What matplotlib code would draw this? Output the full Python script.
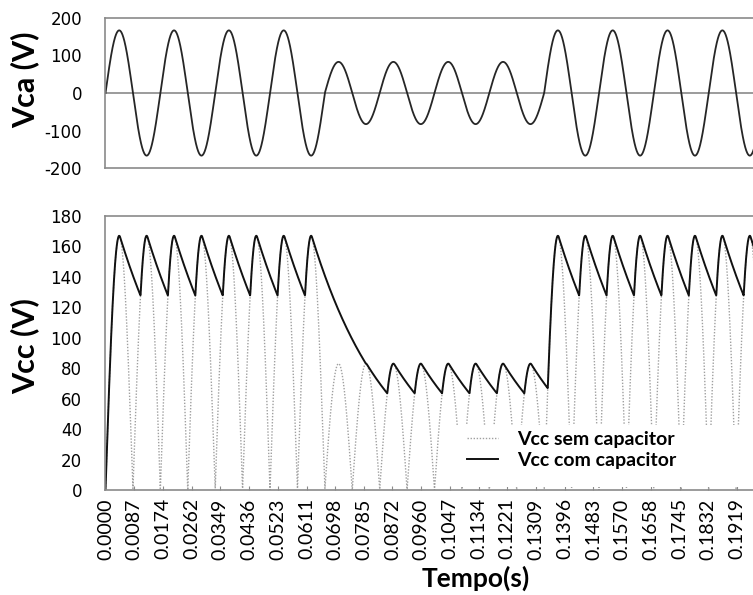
import numpy as np
import matplotlib
matplotlib.use("Agg")
import matplotlib.pyplot as plt
from matplotlib.patches import Rectangle

plt.rcParams["axes.unicode_minus"] = False

# values
freq_hz = 60.0                 # 4 cycles span ~0.0667 s
seg_start_cycles = [0, 4, 8]   # source amplitude changes after 4 and 8 cycles
seg_amp_v = [167.0, 83.0, 167.0]
rc_s = 0.0236                  # capacitor decay: 167 -> 127 V between peaks
t_end = 0.2

tick_labels = ["0.0000", "0.0087", "0.0174", "0.0262", "0.0349", "0.0436",
               "0.0523", "0.0611", "0.0698", "0.0785", "0.0872", "0.0960",
               "0.1047", "0.1134", "0.1221", "0.1309", "0.1396", "0.1483",
               "0.1570", "0.1658", "0.1745", "0.1832", "0.1919"]
vca_ticks = [200, 100, 0, -100, -200]
vcc_ticks = [0, 20, 40, 60, 80, 100, 120, 140, 160, 180]

# waveforms (source, rectified, rectified + capacitor)
t = np.linspace(0.0, t_end, 4001)
amp = np.full_like(t, seg_amp_v[0])
for c, a in zip(seg_start_cycles, seg_amp_v):
    amp[t >= c / freq_hz] = a
vca = amp * np.sin(2 * np.pi * freq_hz * t)
v_rect = np.abs(vca)
v_cap = np.zeros_like(t)
dt = t[1] - t[0]
for i in range(1, len(t)):
    v_cap[i] = max(v_rect[i], v_cap[i - 1] * np.exp(-dt / rc_s))

W, H = 753, 595
fig = plt.figure(figsize=(W / 100, H / 100), dpi=100)
gray = "#8a8a8a"

x0, xw = 105.5, 658.0
ax1 = fig.add_axes([x0 / W, 1 - 168 / H, xw / W, 150 / H])
ax2 = fig.add_axes([x0 / W, 1 - 490 / H, xw / W, 274 / H])

# top: alternating voltage
ax1.plot(t, vca, color="#262626", lw=1.3)
ax1.axhline(0, color=gray, lw=1.2, zorder=1)
ax1.set_xlim(0, t_end)
ax1.set_ylim(-200, 200)
ax1.set_xticks([])
ax1.set_yticks(vca_ticks)

# bottom: rectified voltage
ax2.plot(t, v_rect, color="#a0a0a0", lw=1.0, linestyle=(0, (1, 1.2)),
         label="Vcc sem capacitor")
ax2.plot(t, v_cap, color="#111111", lw=1.4, label="Vcc com capacitor")
ax2.set_xlim(0, t_end)
ax2.set_ylim(0, 180)
ax2.set_yticks(vcc_ticks)
ax2.set_xticks([float(s) for s in tick_labels])
ax2.set_xticklabels(tick_labels, rotation=90, family="Lato", fontsize=14)
ax2.tick_params(axis="x", direction="in", length=3, color=gray, pad=6)

for ax in (ax1, ax2):
    for side in ("left", "top", "bottom"):
        ax.spines[side].set_color(gray)
        ax.spines[side].set_linewidth(1.2)
    ax.spines["right"].set_visible(False)
    ax.tick_params(axis="y", length=0, pad=17, labelsize=12)
    for lab in ax.get_yticklabels():
        lab.set_family("DejaVu Sans")

fig.text(25 / W, 1 - 80 / H, "Vca (V)", rotation=90, ha="center", va="center",
         family="Lato", fontweight="bold", fontsize=22)
fig.text(25 / W, 1 - 346 / H, "Vcc (V)", rotation=90, ha="center", va="center",
         family="Lato", fontweight="bold", fontsize=22)
fig.text(476 / W, 1 - 578 / H, "Tempo(s)", ha="center", va="center",
         family="Lato", fontweight="bold", fontsize=19)

# white legend area
fig.add_artist(Rectangle((455 / W, 1 - 487 / H), 290 / W, 62 / H,
                         transform=fig.transFigure, facecolor="white",
                         edgecolor="none", zorder=3))
handles, labels = ax2.get_legend_handles_labels()
leg = fig.legend(handles, labels, loc="upper left",
                 bbox_to_anchor=(467 / W, 1 - 431 / H),
                 bbox_transform=fig.transFigure, frameon=False,
                 borderpad=0, borderaxespad=0, handlelength=1.6,
                 handletextpad=1.0, labelspacing=0.2,
                 prop={"family": "Lato", "weight": "bold", "size": 14})
leg.set_zorder(4)

fig.savefig("out.png", dpi=100)
